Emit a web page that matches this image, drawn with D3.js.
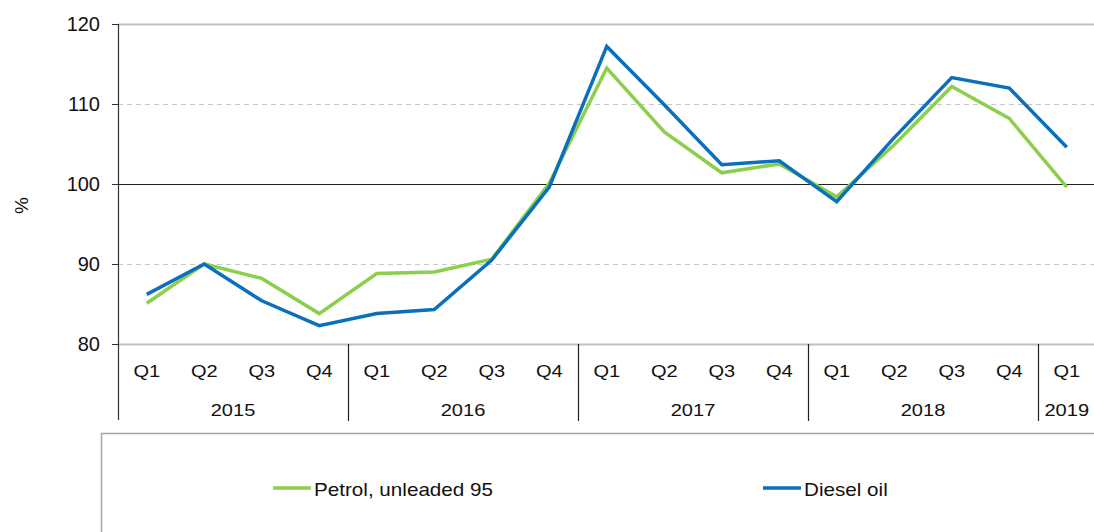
<!DOCTYPE html>
<html>
<head>
<meta charset="utf-8">
<script src="https://cdn.jsdelivr.net/npm/d3@7"></script>
<style>
  body { margin: 0; background: #fff; }
  svg { display: block; font-family: "Liberation Sans", Arial, sans-serif; }
</style>
</head>
<body>
<div class="chart"></div>
<script>
const years = ["2015", "2016", "2017", "2018", "2019"]
const periods = ["2015Q1","2015Q2","2015Q3","2015Q4","2016Q1","2016Q2","2016Q3","2016Q4",
    "2017Q1","2017Q2","2017Q3","2017Q4","2018Q1","2018Q2","2018Q3","2018Q4","2019Q1"]
const petrol = [85.1, 90.0, 88.2, 83.8, 88.8, 89.0, 90.6, 100.1, 114.5, 106.5, 101.4, 102.5, 98.4, 104.9, 112.2, 108.2, 99.6]
const diesel = [86.2, 90.0, 85.4, 82.3, 83.8, 84.3, 90.5, 99.6, 117.2, 109.9, 102.4, 102.9, 97.8, 105.8, 113.3, 112.0, 104.6]
const yTicks = [80, 90, 100, 110, 120]

const width = 1094
const height = 532
const margin = { top: 24, left: 118, bottom: 188 }
const stretch = 1.18  // labels in the original are drawn a bit wide

const svg = d3.select(".chart")
    .append("svg")
    .attr("width", width)
    .attr("height", height)

const x = d3.scaleBand()
    .domain(periods)
    .range([margin.left, margin.left + 57.5 * periods.length])

const y = d3.scaleLinear()
    .domain([80, 120])
    .range([height - margin.bottom, margin.top])

// gridlines
svg.append("g")
    .selectAll("line")
    .data(yTicks)
    .enter()
    .append("line")
    .attr("x1", margin.left)
    .attr("x2", width)
    .attr("y1", d => y(d) + 0.5)
    .attr("y2", d => y(d) + 0.5)
    .style("stroke", d => d == 100 ? "#222" : (d == 80 || d == 120 ? "#c0c0c0" : "#c8c8c8"))
    .style("stroke-width", d => d == 100 ? 1.2 : (d == 80 || d == 120 ? 1.8 : 1))
    .style("stroke-dasharray", d => (d == 90 || d == 110) ? "5,4" : null)

// y axis
svg.append("line")
    .attr("x1", margin.left + 0.5).attr("x2", margin.left + 0.5)
    .attr("y1", y(120)).attr("y2", 420)
    .style("stroke", "#333").style("stroke-width", 1.2)

svg.append("g")
    .selectAll("line")
    .data(yTicks)
    .enter()
    .append("line")
    .attr("x1", margin.left - 6).attr("x2", margin.left)
    .attr("y1", d => y(d) + 0.5).attr("y2", d => y(d) + 0.5)
    .style("stroke", "#333")

svg.append("g")
    .selectAll("text")
    .data(yTicks)
    .enter()
    .append("text")
    .attr("x", 100)
    .attr("y", d => y(d) + 7)
    .attr("text-anchor", "end")
    .style("font-size", "20px")
    .style("fill", "#111")
    .text(d => d)

svg.append("text")
    .attr("transform", "translate(28," + y(97.3) + ") rotate(-90)")
    .attr("text-anchor", "middle")
    .style("font-size", "19px")
    .style("fill", "#111")
    .text("%")

// x axis labels: quarters and years
svg.append("g")
    .selectAll("text")
    .data(periods)
    .enter()
    .append("text")
    .attr("transform", d => "translate(" + (x(d) + x.bandwidth() / 2) + ",377) scale(" + stretch + ",1)")
    .attr("text-anchor", "middle")
    .style("font-size", "17px")
    .style("fill", "#111")
    .text(d => d.slice(4))

const yearSpan = yr => {
    const ps = periods.filter(p => p.startsWith(yr))
    return [x(ps[0]), x(ps[ps.length - 1]) + x.bandwidth()]
}

svg.append("g")
    .selectAll("text")
    .data(years)
    .enter()
    .append("text")
    .attr("transform", d => { const s = yearSpan(d); return "translate(" + (s[0] + s[1]) / 2 + ",416) scale(" + stretch + ",1)" })
    .attr("text-anchor", "middle")
    .style("font-size", "17px")
    .style("fill", "#111")
    .text(d => d)

svg.append("g")
    .selectAll("line")
    .data(years.slice(1))
    .enter()
    .append("line")
    .attr("x1", d => yearSpan(d)[0] + 0.5)
    .attr("x2", d => yearSpan(d)[0] + 0.5)
    .attr("y1", y(80))
    .attr("y2", 421)
    .style("stroke", "#222")
    .style("stroke-width", 1.2)

// series
const line = d3.line()
    .x((d, i) => x(periods[i]) + x.bandwidth() / 2)
    .y(d => y(d))

const series = [
    { name: "Petrol, unleaded 95", values: petrol, color: "#8ccf4d" },
    { name: "Diesel oil", values: diesel, color: "#0a70bc" }
]

svg.append("g")
    .selectAll("path")
    .data(series)
    .enter()
    .append("path")
    .attr("d", d => line(d.values))
    .style("fill", "none")
    .style("stroke", d => d.color)
    .style("stroke-width", 3.5)
    .style("stroke-linejoin", "miter")

// legend box
svg.append("rect")
    .attr("x", 101.5).attr("y", 433.5)
    .attr("width", 1100).attr("height", 200)
    .style("fill", "none")
    .style("stroke", "#a6a6a6")
    .style("stroke-width", 1.5)

const legendPos = [273, 763]
const legend = svg.append("g")
    .selectAll("g")
    .data(series)
    .enter()
    .append("g")
    .attr("transform", (d, i) => "translate(" + legendPos[i] + ",488)")

legend.append("line")
    .attr("x1", 0).attr("x2", 38)
    .style("stroke", d => d.color)
    .style("stroke-width", 3.5)

legend.append("text")
    .attr("transform", "translate(41,8) scale(" + stretch + ",1)")
    .style("font-size", "17.5px")
    .style("fill", "#111")
    .text(d => d.name)
</script>
</body>
</html>
